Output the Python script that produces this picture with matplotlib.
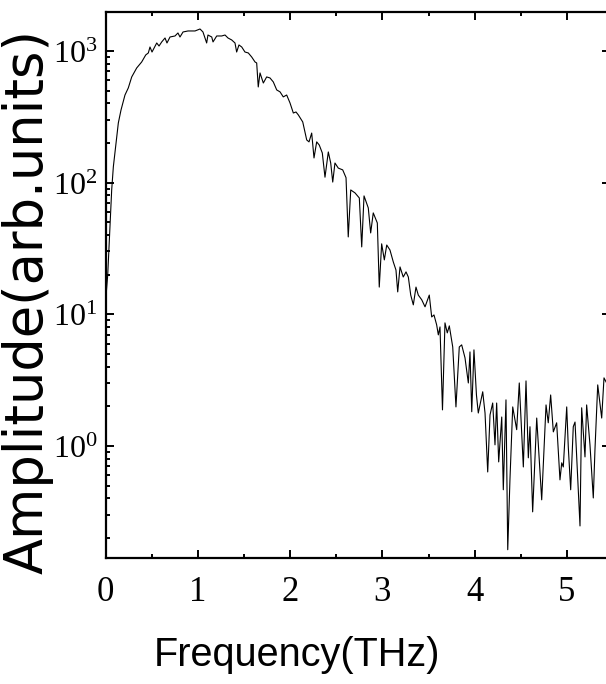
import numpy as np
import matplotlib
matplotlib.use('Agg')
import matplotlib.pyplot as plt
from matplotlib.ticker import LogLocator, MultipleLocator, FuncFormatter, NullFormatter

# spectrum: frequency (THz) and amplitude (arb. units)
freq = [0.005, 0.024, 0.067, 0.085, 0.110, 0.139, 0.168, 0.211, 0.247, 0.284,
        0.338, 0.392, 0.436, 0.464, 0.482, 0.504, 0.555, 0.580, 0.609, 0.645,
        0.666, 0.699, 0.753, 0.785, 0.807, 0.840, 0.894, 0.970, 1.024, 1.056,
        1.096, 1.110, 1.151, 1.165, 1.205, 1.259, 1.295, 1.327, 1.367, 1.403,
        1.421, 1.446, 1.476, 1.511, 1.547, 1.584, 1.620, 1.638, 1.655, 1.674,
        1.710, 1.746, 1.782, 1.818, 1.855, 1.891, 1.926, 1.963, 1.999, 2.035,
        2.064, 2.089, 2.137, 2.180, 2.205, 2.234, 2.259, 2.288, 2.316, 2.349,
        2.378, 2.414, 2.440, 2.462, 2.486, 2.522, 2.570, 2.606, 2.630, 2.657,
        2.703, 2.750, 2.776, 2.801, 2.847, 2.873, 2.901, 2.945, 2.966, 2.992,
        3.021, 3.047, 3.082, 3.118, 3.147, 3.166, 3.191, 3.226, 3.256, 3.281,
        3.307, 3.335, 3.364, 3.389, 3.426, 3.462, 3.508, 3.534, 3.559, 3.588,
        3.606, 3.624, 3.651, 3.678, 3.703, 3.725, 3.762, 3.797, 3.833, 3.859,
        3.895, 3.931, 3.949, 3.968, 3.992, 4.019, 4.039, 4.087, 4.112, 4.141,
        4.166, 4.195, 4.220, 4.238, 4.260, 4.293, 4.310, 4.339, 4.358, 4.382,
        4.412, 4.455, 4.483, 4.527, 4.556, 4.581, 4.599, 4.628, 4.672, 4.726,
        4.773, 4.797, 4.823, 4.852, 4.888, 4.924, 4.943, 4.960, 4.997, 5.014,
        5.040, 5.068, 5.087, 5.141, 5.159, 5.195, 5.213, 5.249, 5.285, 5.303,
        5.333, 5.376, 5.401, 5.440]
amp = [13.6, 19.9, 88, 132, 187, 284, 356, 463, 524, 635,
       743, 825, 933, 966, 1072, 982, 1150, 1091, 1171, 1255,
       1150, 1277, 1300, 1370, 1277, 1394, 1419, 1419, 1469, 1394,
       1150, 1322, 1277, 1171, 1300, 1300, 1322, 1255, 1213, 1150,
       982, 1111, 1072, 982, 966, 900, 825, 811, 533, 681,
       571, 635, 624, 582, 506, 489, 448, 463, 403, 338,
       344, 327, 289, 211, 204, 238, 154, 204, 193, 168,
       110, 171, 141, 101, 141, 129, 125, 109, 38.7, 88,
       83.6, 76.5, 32.5, 79.3, 64.3, 41.5, 58.9, 49.4, 16.1, 34.3,
       25.9, 33.6, 30.8, 25.0, 21.7, 14.8, 22.9, 19.2, 21.0, 19.2,
       14.0, 11.8, 16.1, 14.0, 12.9, 11.4, 14.0, 9.55, 9.89, 8.31,
       6.98, 8.02, 1.88, 8.61, 7.23, 8.17, 5.65, 1.98, 5.65, 5.86,
       4.67, 3.01, 5.18, 1.82, 5.37, 2.44, 1.78, 2.58, 1.78, 0.635,
       1.72, 2.12, 1.02, 2.12, 0.757, 1.66, 0.465, 2.24, 0.163, 0.553,
       1.98, 1.33, 3.01, 0.693, 3.12, 0.813, 1.40, 0.316, 1.63, 0.390,
       2.05, 1.50, 2.44, 1.28, 1.50, 0.553, 0.745, 0.693, 1.98, 0.984,
       0.465, 1.40, 1.52, 0.247, 1.95, 0.826, 2.05, 1.02, 0.403, 0.933,
       2.91, 1.63, 3.29, 2.91]

xticks = [0, 1, 2, 3, 4, 5]

plt.rcParams['mathtext.fontset'] = 'custom'
plt.rcParams['mathtext.rm'] = 'Liberation Serif'
plt.rcParams['mathtext.it'] = 'Liberation Serif:italic'
plt.rcParams['mathtext.default'] = 'rm'

fig = plt.figure(figsize=(6.06, 6.84), dpi=100)
# right spine sits just past the image edge, as in the original
ax = fig.add_axes([105.5/606, 1-558/684, 504.5/606, 546/684])

ax.plot(freq, amp, color='black', lw=0.8)

ax.set_yscale('log')
ax.set_xlim(0, 5.466)
ax.set_ylim(0.141, 1977)

ax.set_xticks(xticks)
ax.xaxis.set_minor_locator(MultipleLocator(0.5))
ax.yaxis.set_major_locator(LogLocator(base=10))
ax.yaxis.set_minor_locator(LogLocator(base=10, subs=np.arange(2, 10)))
ax.yaxis.set_major_formatter(FuncFormatter(
    lambda v, p: r'$\mathrm{10^{%d}}$' % round(np.log10(v))))
ax.yaxis.set_minor_formatter(NullFormatter())

for s in ax.spines.values():
    s.set_linewidth(1.6)
ax.tick_params(which='both', direction='in', top=True, right=True, width=1.4)
ax.tick_params(which='major', length=6)
ax.tick_params(which='minor', length=3)
ax.tick_params(axis='x', which='major', pad=13, labelsize=25)
ax.tick_params(axis='y', which='major', pad=6, labelsize=23)
for lab in ax.get_xticklabels():
    lab.set_family('Liberation Serif')

fig.text(28/606, 1-302/684, 'Amplitude(arb.units)', rotation=90,
         ha='center', va='center', fontsize=38, family='DejaVu Sans')
fig.text(297/606, 1-655/684, 'Frequency(THz)',
         ha='center', va='center', fontsize=28.5, family='Liberation Sans')

fig.savefig('out.png', dpi=100)
